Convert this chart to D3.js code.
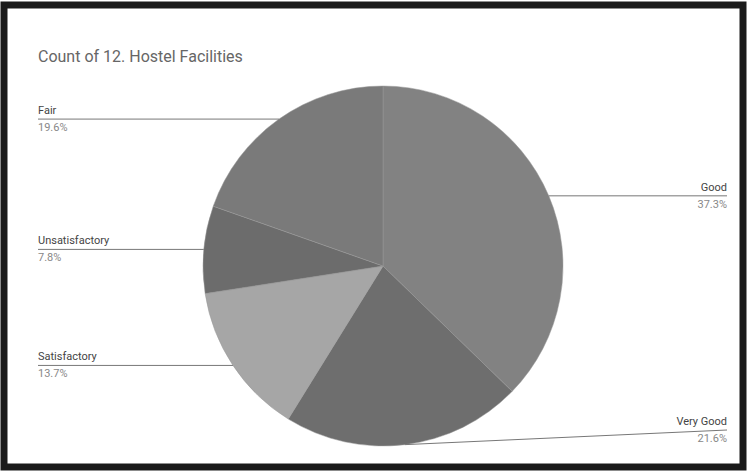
<!DOCTYPE html>
<html><head><meta charset="utf-8">
<script src="https://cdn.jsdelivr.net/npm/d3@7"></script>
<style>html,body{margin:0;padding:0;background:#fff;}svg{display:block;}</style>
</head><body>
<svg id="c" width="748" height="474"></svg>
<script>
const title = "Count of 12. Hostel Facilities";
const categories = ["Good", "Very Good", "Satisfactory", "Unsatisfactory", "Fair"];
const counts = [19, 11, 7, 4, 10];
const colors = ["#828282", "#6e6e6e", "#a6a6a6", "#6c6c6c", "#7a7a7a"];
const labelSide = ["right", "right", "left", "left", "left"];

const svg = d3.select("#c");
svg.append("rect").attr("x", 4).attr("y", 5).attr("width", 739).attr("height", 462)
  .attr("fill", "#fff").attr("stroke", "#1a1a1a").attr("stroke-width", 7);

svg.append("text").attr("x", 38).attr("y", 62).text(title)
  .attr("font-family", "Roboto, Arial, sans-serif").attr("font-size", 16).attr("fill", "#666");

const cx = 383, cy = 266, r = 180;
const total = d3.sum(counts);
const pie = d3.pie().sort(null).value(d => d)(counts);
const arc = d3.arc().innerRadius(0).outerRadius(r);
const g = svg.append("g").attr("transform", `translate(${cx},${cy})`);
g.selectAll("path").data(pie).enter().append("path")
  .attr("d", arc).attr("fill", (d, i) => colors[i]).attr("stroke", "#999").attr("stroke-width", 0.5);

const fmt = d3.format(".1f");
pie.forEach((d, i) => {
  const a = (d.startAngle + d.endAngle) / 2;
  const px = cx + r * Math.sin(a), py = cy - r * Math.cos(a);
  const side = labelSide[i];
  const xEnd = side === "left" ? 38 : 727;
  const ly = Math.min(py, 430);
  svg.append("polyline")
    .attr("points", `${px},${py} ${xEnd},${ly}`)
    .attr("fill", "none").attr("stroke", "#777").attr("stroke-width", 1);
  const anchor = side === "left" ? "start" : "end";
  svg.append("text").attr("x", xEnd).attr("y", ly - 5).attr("text-anchor", anchor)
    .attr("font-family", "Roboto, Arial, sans-serif").attr("font-size", 11).attr("fill", "#444")
    .text(categories[i]);
  svg.append("text").attr("x", xEnd).attr("y", ly + 12).attr("text-anchor", anchor)
    .attr("font-family", "Roboto, Arial, sans-serif").attr("font-size", 11).attr("fill", "#888")
    .text(fmt(counts[i] / total * 100) + "%");
});
</script>
</body></html>
